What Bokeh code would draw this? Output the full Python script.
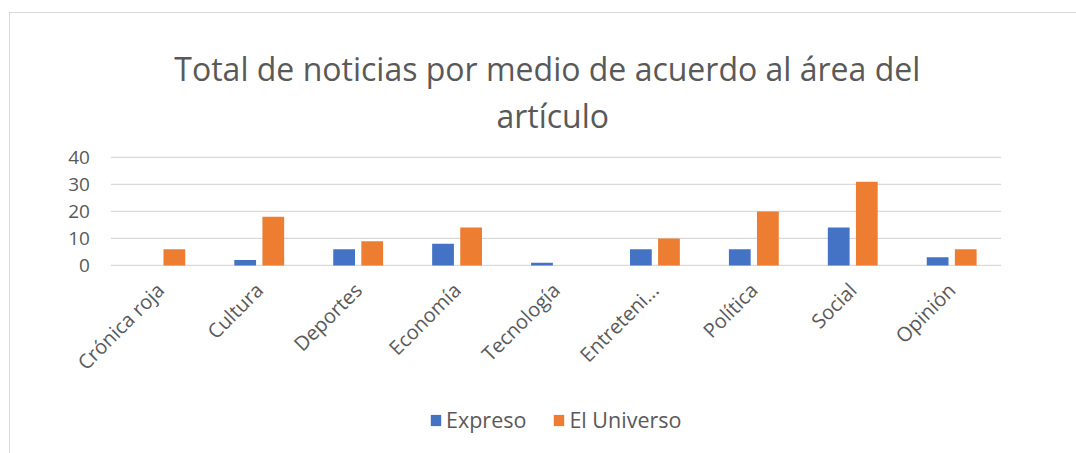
import math
from bokeh.plotting import figure
from bokeh.models import (ColumnDataSource, FactorRange, Range1d,
                          Legend, LegendItem, Label)
from bokeh.transform import dodge
from bokeh.core.properties import value
from bokeh.embed import file_html
from bokeh.resources import INLINE

categories = ["Crónica roja", "Cultura", "Deportes", "Economía", "Tecnología",
              "Entreteni...", "Política", "Social", "Opinión"]
expreso = [0, 2, 6, 8, 1, 6, 6, 14, 3]
el_universo = [6, 18, 9, 14, 0, 10, 20, 31, 6]
y_ticks = [0, 10, 20, 30, 40]
y_tick_labels = [str(v) for v in y_ticks]
title_lines = ["Total de noticias por medio de acuerdo al área del", "artículo"]
series_names = ["Expreso", "El Universo"]

BLUE = "#4472C4"
ORANGE = "#ED7D31"
TEXT = "#595959"
GRID = "#D9D9D9"
FONT = "Open Sans"

src = ColumnDataSource(dict(cat=categories, exp=expreso, eu=el_universo))

# The frame covers the whole chart area (title, plot, legend) so nothing is
# clipped; the category axis is pinned to y = 0.
p = figure(
    x_range=FactorRange(*categories, range_padding=0.873, range_padding_units="absolute"),
    y_range=Range1d(-67.8, 93.3),
    frame_width=1063, frame_height=435,
    y_axis_location=None,
    output_backend="svg", toolbar_location=None,
    min_border_left=14, min_border_right=0,
    min_border_top=0, min_border_bottom=10,
)
p.styles = {"border-top": "1px solid #D9D9D9", "border-left": "1px solid #D9D9D9",
            "margin-top": "12px", "margin-left": "9px"}
p.outline_line_color = None
p.background_fill_color = "white"
p.border_fill_color = "white"
p.xgrid.visible = False
p.ygrid.visible = False

# value gridlines over the category span
p.segment(x0=0, x1=len(categories), y0=y_ticks, y1=y_ticks,
          line_color=GRID, line_width=1.3)
# value tick labels
p.text(x=0, y=y_ticks, text=y_tick_labels, x_offset=-21,
       text_align="right", text_baseline="middle",
       text_font=value(FONT), text_font_size="19px", text_color=TEXT)

r1 = p.vbar(x=dodge("cat", -0.142, range=p.x_range), top="exp", width=0.22,
            source=src, fill_color=BLUE, line_color=None)
r2 = p.vbar(x=dodge("cat", 0.142, range=p.x_range), top="eu", width=0.22,
            source=src, fill_color=ORANGE, line_color=None)

p.xaxis.fixed_location = 0
p.xaxis.axis_line_color = None
p.xaxis.major_tick_line_color = None
p.xaxis.major_label_orientation = math.pi / 4
p.xaxis.major_label_standoff = 15
p.xaxis.major_label_text_font = FONT
p.xaxis.major_label_text_font_size = "20px"
p.xaxis.major_label_text_color = TEXT

# Title, two centred lines
p.add_layout(Label(x=4.412, y=72.96, text=title_lines[0],
                   text_align="center", text_baseline="alphabetic",
                   text_font=FONT, text_font_size="32px", text_color=TEXT))
p.add_layout(Label(x=4.467, y=55.56, text=title_lines[1],
                   text_align="center", text_baseline="alphabetic",
                   text_font=FONT, text_font_size="32px", text_color=TEXT))

legend = Legend(
    items=[LegendItem(label=series_names[0], renderers=[r1]),
           LegendItem(label=series_names[1], renderers=[r2])],
    orientation="horizontal", location=(405, 14),
    padding=0, margin=0, spacing=26,
    glyph_width=13, glyph_height=14, label_standoff=4,
    label_text_font=FONT, label_text_font_size="21.5px", label_text_color=TEXT,
    border_line_color=None, background_fill_alpha=0,
)
p.add_layout(legend, "center")

open("out.html", "w").write(file_html(p, INLINE))
